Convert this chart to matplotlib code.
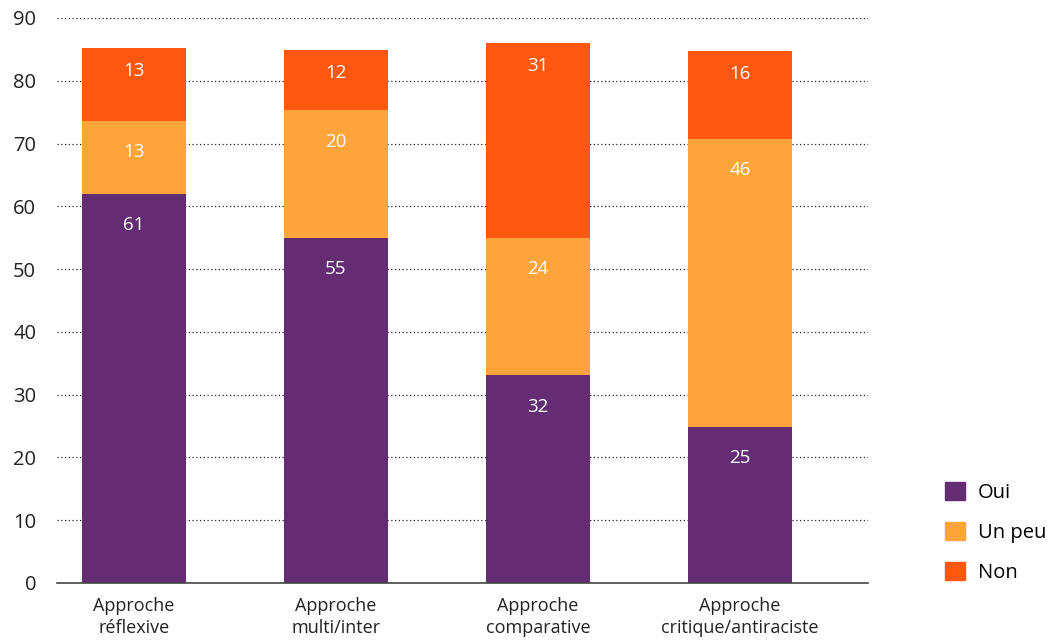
import matplotlib.pyplot as plt
import numpy as np
from matplotlib.patches import Patch

plt.rcParams['font.family'] = ['Open Sans', 'DejaVu Sans']

categories = ["Approche\nréflexive", "Approche\nmulti/inter", "Approche\ncomparative", "Approche\ncritique/antiraciste"]
series = ["Oui", "Un peu", "Non"]
# bar heights as drawn
oui = [62.0, 55.0, 33.1, 24.85]
un_peu = [11.6, 20.3, 21.9, 45.9]
non = [11.6, 9.6, 31.0, 14.0]
# labels printed in bars
oui_lab = [61, 55, 32, 25]
un_peu_lab = [13, 20, 24, 46]
non_lab = [13, 12, 31, 16]
colors = ["#632C73", "#FDA53B", "#FE5710"]

fig = plt.figure(figsize=(10.56, 6.42), dpi=100)
ax = fig.add_axes([0.054, 0.092, 0.768, 0.88])

x = np.arange(len(categories))
bottom = np.zeros(len(categories))
for k, (vals, labs, col, name) in enumerate(zip([oui, un_peu, non], [oui_lab, un_peu_lab, non_lab], colors, series)):
    ax.bar(x, vals, width=0.515, bottom=bottom, color=col, zorder=3, label=name)
    off = 3.6 if k == 2 else 5.0
    for xi, b, v, l in zip(x, bottom, vals, labs):
        ax.text(xi, b + v - off, str(l), ha='center', va='center', color='white', fontsize=13.5, zorder=4)
    bottom += np.array(vals)

ax.set_xlim(-0.381, 3.634)
ax.set_ylim(0, 90)
ax.set_yticks(range(0, 91, 10))
ax.yaxis.grid(True, linestyle=(0, (1, 2)), color='#222222', linewidth=0.9, zorder=0)
ax.set_xticks(x)
ax.set_xticklabels(categories, fontsize=13, linespacing=1.3)
ax.tick_params(axis='both', length=0, colors='#222222')
ax.tick_params(axis='y', pad=15, labelsize=14.5)
ax.tick_params(axis='x', pad=10)
for s in ['top', 'right', 'left']:
    ax.spines[s].set_visible(False)
ax.spines['bottom'].set_color('#444444')
ax.spines['bottom'].set_linewidth(1.2)
ax.spines['bottom'].set_zorder(5)

handles = [Patch(color=c, label=n) for c, n in zip(colors, series)]
fig.legend(handles=handles, loc='lower left', bbox_to_anchor=(0.878, 0.064), frameon=False,
           fontsize=14.5, handlelength=1.0, handleheight=1.0, labelspacing=0.95, handletextpad=0.6)

fig.savefig("out.png", dpi=100)
